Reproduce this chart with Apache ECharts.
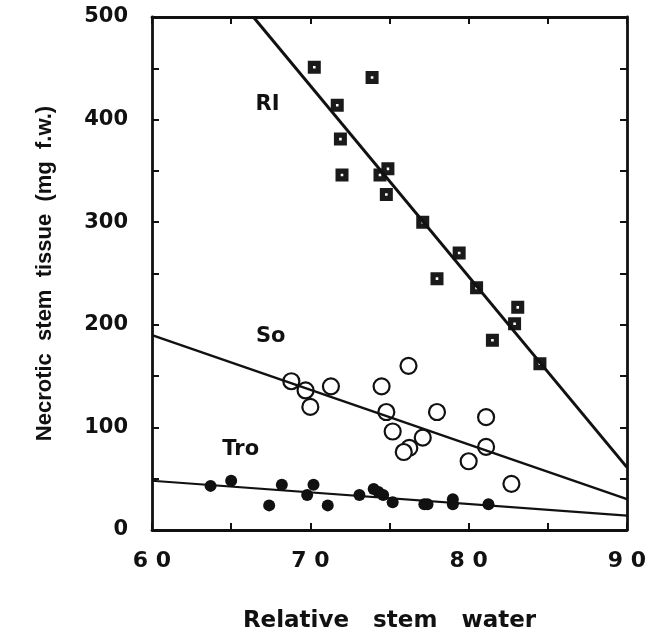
<!DOCTYPE html>
<html>
<head>
<meta charset="utf-8">
<script src="https://cdn.jsdelivr.net/npm/echarts@6/dist/echarts.min.js"></script>
<style>
  html, body { margin: 0; padding: 0; background: #fff; }
  #chart { width: 664px; height: 633px; }
</style>
</head>
<body>
<div id="chart"></div>
<script>
// RI: filled squares
const riPoints = [
  [70.25, 451], [73.9, 441], [71.7, 414], [71.9, 381], [72.0, 346],
  [74.4, 346], [74.9, 352], [74.8, 327], [77.1, 300], [79.4, 270],
  [78.0, 245], [80.5, 236], [83.1, 217], [82.9, 201], [81.5, 185],
  [84.5, 162],
];
// So: open circles
const soPoints = [
  [68.8, 145], [69.7, 136], [70.0, 120], [71.3, 140], [74.5, 140],
  [76.2, 160], [74.8, 115], [78.0, 115], [75.2, 96], [77.1, 90],
  [76.25, 80], [75.9, 76], [81.1, 110], [81.1, 81], [80.0, 67],
  [82.7, 45],
];
// Tro: filled dots
const troPoints = [
  [63.7, 43], [65.0, 48], [67.4, 24], [68.2, 44], [69.8, 34],
  [70.2, 44], [71.1, 24], [73.1, 34], [74.0, 40], [74.3, 37],
  [74.6, 34], [75.2, 27], [77.2, 25], [77.4, 25], [79.0, 30],
  [79.0, 25], [81.25, 25],
];

// fitted lines (end points)
const riLine = [[66.4, 500], [90, 61]];
const soLine = [[60, 190], [90, 30]];
const troLine = [[60, 48], [90, 14]];

// group labels
const groupLabels = [[67.3, 415, 'RI'], [67.5, 189, 'So'], [65.6, 78, 'Tro']];

const xTicks = { min: 60, max: 90, step: 5 };
const yTicks = { min: 0, max: 500, step: 50 };

// scan is stretched sideways, so horizontal text uses the wider DejaVu
const wideFont = '"DejaVu Sans", Verdana, sans-serif';
const font = '"Liberation Sans", Arial, Helvetica, sans-serif';
const squareHole = 'path://M0,0 L10,0 L10,10 L0,10 Z M4,4 L4,6 L6,6 L6,4 Z';

const chart = echarts.init(document.getElementById('chart'));

const axisLine = { show: true, onZero: false, lineStyle: { color: '#111', width: 2.8 } };
const axisTick = { show: true, inside: true, length: 7, lineStyle: { color: '#111', width: 2 } };

chart.setOption({
  animation: false,
  backgroundColor: '#fff',
  grid: { left: 152, right: 37, top: 17, bottom: 103, outerBoundsMode: 'none', containLabel: false },
  xAxis: [
    {
      type: 'value',
      position: 'bottom',
      min: xTicks.min, max: xTicks.max, interval: xTicks.step,
      axisLine, axisTick,
      splitLine: { show: false },
      axisLabel: {
        margin: 20,
        color: '#111',
        fontFamily: wideFont,
        fontWeight: 'bold',
        fontSize: 22,
        formatter: (v) => (v % 10 === 0 ? String(v).split('').join(' ') : ''),
      },
      name: 'Relative   stem   water',
      nameLocation: 'middle',
      nameGap: 80,
      nameTextStyle: {
        color: '#111', fontFamily: wideFont, fontWeight: 'bold', fontSize: 23,
      },
    },
    {
      type: 'value',
      position: 'top',
      min: xTicks.min, max: xTicks.max, interval: xTicks.step,
      axisLine, axisTick,
      splitLine: { show: false },
      axisLabel: { show: false },
    },
  ],
  yAxis: [
    {
      type: 'value',
      position: 'left',
      min: yTicks.min, max: yTicks.max, interval: yTicks.step,
      axisLine, axisTick,
      splitLine: { show: false },
      axisLabel: {
        margin: 24,
        color: '#111',
        fontFamily: wideFont,
        fontWeight: 'bold',
        fontSize: 21,
        formatter: (v) => (v % 100 === 0 ? String(v) : ''),
      },
      name: 'Necrotic  stem  tissue  (mg  f.w.)',
      nameLocation: 'middle',
      nameGap: 96,
      nameTextStyle: {
        color: '#111', fontFamily: font, fontWeight: 'bold', fontSize: 22,
      },
    },
    {
      type: 'value',
      position: 'right',
      min: yTicks.min, max: yTicks.max, interval: yTicks.step,
      axisLine, axisTick,
      splitLine: { show: false },
      axisLabel: { show: false },
    },
  ],
  series: [
    {
      type: 'line', data: riLine, symbol: 'none', silent: true,
      lineStyle: { color: '#111', width: 3 },
    },
    {
      type: 'line', data: soLine, symbol: 'none', silent: true,
      lineStyle: { color: '#111', width: 2.4 },
    },
    {
      type: 'line', data: troLine, symbol: 'none', silent: true,
      lineStyle: { color: '#111', width: 2.2 },
    },
    {
      type: 'scatter', data: riPoints, symbol: squareHole, symbolSize: 13,
      itemStyle: { color: '#1a1a1a', opacity: 1 },
    },
    {
      type: 'scatter', data: soPoints, symbol: 'circle', symbolSize: 16,
      itemStyle: { color: '#fff', borderColor: '#111', borderWidth: 2.2, opacity: 1 },
    },
    {
      type: 'scatter', data: troPoints, symbol: 'circle', symbolSize: 12,
      itemStyle: { color: '#111', opacity: 1 },
    },
    {
      type: 'scatter',
      data: groupLabels.map((d) => ({ value: [d[0], d[1]], name: d[2] })),
      symbolSize: 0,
      silent: true,
      itemStyle: { opacity: 1 },
      label: {
        show: true,
        position: 'inside',
        formatter: (p) => p.name,
        color: '#111',
        fontFamily: wideFont,
        fontWeight: 'bold',
        fontSize: 21,
      },
    },
  ],
});
</script>
</body>
</html>
